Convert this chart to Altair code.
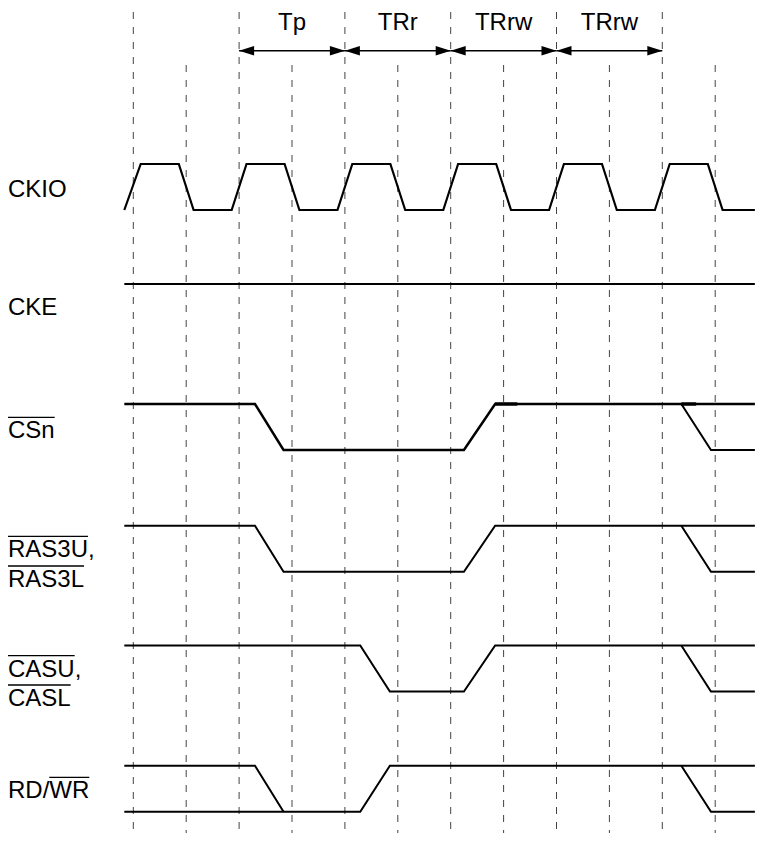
import altair as alt
import pandas as pd

# ---------------- data (time in clock half-periods, level 1 = high) ----------------
ckio_t = [-0.17, 0.14, 0.86, 1.14, 1.86, 2.14, 2.86, 3.14, 3.86, 4.14, 4.86, 5.14,
          5.86, 6.14, 6.86, 7.14, 7.86, 8.14, 8.86, 9.14, 9.86, 10.14, 10.86, 11.14, 11.75]
ckio_lv = [0, 1, 1, 0, 0, 1, 1, 0, 0, 1, 1, 0, 0, 1, 1, 0, 0, 1, 1, 0, 0, 1, 1, 0, 0]

cke_t = [-0.17, 11.75]
cke_lv = [1, 1]

csn_t = [-0.17, 2.30, 2.84, 6.25, 6.84, 11.75]
csn_lv = [1, 1, 0, 0, 1, 1]
csn_stub1_t = [6.84, 7.26]
csn_stub1_lv = [1, 1]
csn_stub2_t = [10.36, 10.64]
csn_stub2_lv = [1, 1]

ras_t = [-0.17, 2.30, 2.84, 6.25, 6.84, 11.75]
ras_lv = [1, 1, 0, 0, 1, 1]

cas_t = [-0.17, 4.29, 4.85, 6.25, 6.84, 11.75]
cas_lv = [1, 1, 0, 0, 1, 1]

rd_a_t = [-0.17, 2.30, 2.84]
rd_a_lv = [1, 1, 0]
rd_b_t = [-0.17, 4.29, 4.85, 11.75]
rd_b_lv = [0, 0, 1, 1]

end_t = [10.36, 10.92, 11.75]
end_lv = [1, 0, 0]

grid_t = [0, 1, 2, 3, 4, 5, 6, 7, 8, 9, 10, 11]
grid_long = [1, 0, 1, 0, 1, 0, 1, 0, 1, 0, 1, 0]

cycle_names = ["Tp", "TRr", "TRrw", "TRrw"]
cycle_start = [2, 4, 6, 8]
cycle_end = [4, 6, 8, 10]

signal_names = ["CKIO", "CKE", "CSn", "RAS3U,", "RAS3L", "CASU,", "CASL", "RD/WR"]

# ---------------- layout ----------------
W, H = 747, 825
PX = 52.9                      # pixels per half period
D0 = -125.3 / PX
D1 = D0 + W / PX
ROW_HIGH = [156, 276, 396, 517.7, 637.5, 757.7]
AMP = 46
FONT = "Liberation Sans, Arial, Helvetica, sans-serif"
FS = 24

def lvl_y(row, lv):
    return ROW_HIGH[row] + (1 - lv) * AMP

rows = []
paths = [
    ("ckio", 0, ckio_t, ckio_lv, 2.2),
    ("cke", 1, cke_t, cke_lv, 2.0),
    ("csn", 2, csn_t, csn_lv, 2.5),
    ("csn_s1", 2, csn_stub1_t, csn_stub1_lv, 3.4),
    ("csn_s2", 2, csn_stub2_t, csn_stub2_lv, 3.4),
    ("csn_e", 2, end_t, end_lv, 2.0),
    ("ras", 3, ras_t, ras_lv, 2.0),
    ("ras_e", 3, end_t, end_lv, 2.0),
    ("cas", 4, cas_t, cas_lv, 2.0),
    ("cas_e", 4, end_t, end_lv, 2.0),
    ("rd_a", 5, rd_a_t, rd_a_lv, 2.0),
    ("rd_b", 5, rd_b_t, rd_b_lv, 2.0),
    ("rd_e", 5, end_t, end_lv, 2.0),
]
for pid, row, ts, lvs, sw in paths:
    for i, (t, lv) in enumerate(zip(ts, lvs)):
        rows.append({"path": pid, "ord": i, "t": t, "y": lvl_y(row, lv), "sw": sw})
wave_df = pd.DataFrame(rows)

grid_df = pd.DataFrame({
    "t": grid_t,
    "y": [4 if g else 57 for g in grid_long],
    "y2": [H] * len(grid_t),
})

ARROW_Y = 42.7
arrow_df = pd.DataFrame({"t": cycle_start, "t2": cycle_end, "y": [ARROW_Y] * 4})
head_l = pd.DataFrame({"t": cycle_start, "y": [ARROW_Y] * 4})
head_r = pd.DataFrame({"t": cycle_end, "y": [ARROW_Y] * 4})
cyc_df = pd.DataFrame({"t": [(a + b) / 2 for a, b in zip(cycle_start, cycle_end)],
                       "y": [22.3] * 4, "label": cycle_names})

label_base = [188.7, 307, 430.3, 549.3, 579, 668.7, 698, 790.3]
lab_df = pd.DataFrame({"t": [D0] * len(signal_names), "y": label_base,
                       "label": signal_names})

# overline extents (pixels from label start, Arial advance widths at 24px)
over = [  # label index, from px, to px
    (2, 0, 46.7), (3, 0, 80.0), (4, 0, 76.0), (5, 0, 66.7), (6, 0, 62.7), (7, 41.3, 81.3)
]
over_df = pd.DataFrame({
    "t": [D0 + a / PX for _, a, _b in over],
    "t2": [D0 + b / PX for _, _a, b in over],
    "y": [label_base[i] - 21 for i, _a, _b in over],
})

xs = alt.Scale(domain=[D0, D1], nice=False, zero=False)
ys = alt.Scale(domain=[0, H], reverse=True, nice=False, zero=False)
X = alt.X("t:Q", scale=xs, axis=None)
Y = alt.Y("y:Q", scale=ys, axis=None)

grid = alt.Chart(grid_df).mark_rule(color="#444", strokeWidth=1, strokeDash=[7, 8]).encode(
    x=X, y=Y, y2="y2:Q")

waves = alt.Chart(wave_df).mark_line(color="black", strokeJoin="miter", strokeCap="butt").encode(
    x=X, y=Y, detail="path:N", order="ord:Q",
    strokeWidth=alt.StrokeWidth("sw:Q", scale=None))

arrows = alt.Chart(arrow_df).mark_rule(color="black", strokeWidth=1.5).encode(
    x=X, x2="t2:Q", y=Y)
hl = alt.Chart(head_l).mark_point(shape="M0,0L2,-0.64L2,0.64Z", size=225, filled=True,
                                  color="black", opacity=1).encode(x=X, y=Y)
hr = alt.Chart(head_r).mark_point(shape="M0,0L-2,-0.64L-2,0.64Z", size=225, filled=True,
                                  color="black", opacity=1).encode(x=X, y=Y)
cyc = alt.Chart(cyc_df).mark_text(font=FONT, fontSize=FS, align="center",
                                  baseline="alphabetic", color="black").encode(
    x=X, y=Y, text="label:N")
labs = alt.Chart(lab_df).mark_text(font=FONT, fontSize=FS, align="left",
                                   baseline="alphabetic", color="black").encode(
    x=X, y=Y, text="label:N")
overs = alt.Chart(over_df).mark_rule(color="black", strokeWidth=1.3).encode(
    x=X, x2="t2:Q", y=Y)

chart = alt.layer(grid, waves, arrows, hl, hr, cyc, labs, overs).properties(
    width=W, height=H, padding=0, autosize="none"
).configure_view(stroke=None)

chart.save("out.html", embed_options={"renderer": "svg", "actions": False})
